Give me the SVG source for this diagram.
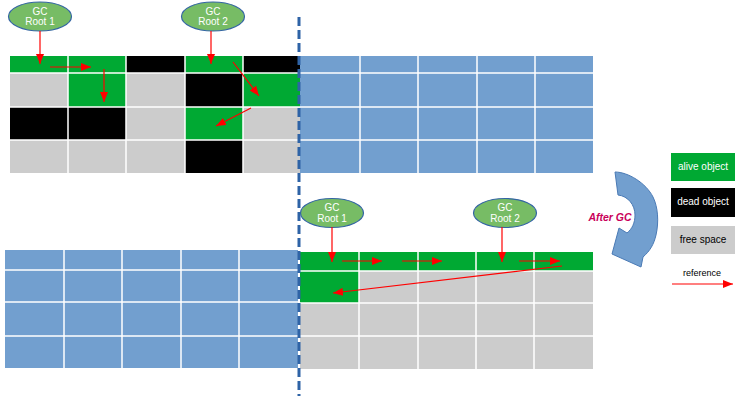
<svg xmlns="http://www.w3.org/2000/svg" width="744" height="399" viewBox="0 0 744 399">
<style>
.g{fill:#00a933}.k{fill:#000}.f{fill:#cccccc}.b{fill:#729fcf}
.gl{stroke:#fff;stroke-width:1.5;fill:none}
.root{fill:#77bc65;stroke:#3465a4;stroke-width:1.2}
.rt{font-family:"Liberation Sans",Arial,sans-serif;font-size:10px;fill:#fff;text-anchor:middle}
.lt{font-family:"Liberation Sans",Arial,sans-serif;font-size:10px;text-anchor:middle}
.ref{stroke:#ff0000;stroke-width:1.2;fill:none;marker-end:url(#ah)}
</style>
<defs>
<marker id="ah" viewBox="0 0 10 8" refX="10" refY="4" markerWidth="10" markerHeight="8" markerUnits="userSpaceOnUse" orient="auto">
<path d="M0,0 L10,4 L0,8 Z" fill="#ff0000"/>
</marker>
</defs>
<rect width="744" height="399" fill="#fff"/>

<g id="top-heap">
<rect class="g" x="10" y="56" width="58" height="17"/>
<rect class="g" x="68" y="56" width="58" height="17"/>
<rect class="k" x="126" y="56" width="59" height="17"/>
<rect class="g" x="185" y="56" width="58" height="17"/>
<rect class="k" x="243" y="56" width="57" height="17"/>
<rect class="f" x="10" y="73" width="58" height="34"/>
<rect class="g" x="68" y="73" width="58" height="34"/>
<rect class="f" x="126" y="73" width="59" height="34"/>
<rect class="k" x="185" y="73" width="58" height="34"/>
<rect class="g" x="243" y="73" width="57" height="34"/>
<rect class="k" x="10" y="107" width="58" height="33"/>
<rect class="k" x="68" y="107" width="58" height="33"/>
<rect class="f" x="126" y="107" width="59" height="33"/>
<rect class="g" x="185" y="107" width="58" height="33"/>
<rect class="f" x="243" y="107" width="57" height="33"/>
<rect class="f" x="10" y="140" width="58" height="33"/>
<rect class="f" x="68" y="140" width="58" height="33"/>
<rect class="f" x="126" y="140" width="59" height="33"/>
<rect class="k" x="185" y="140" width="58" height="33"/>
<rect class="f" x="243" y="140" width="57" height="33"/>
<rect class="b" x="300" y="56" width="293" height="117"/>
<path class="gl" d="M68,56V173M126,56V173M185,56V173M243,56V173M360,56V173M418,56V173M477,56V173M535,56V173M10,73H593M10,107H593M10,140H593"/>
</g>

<g id="bottom-heap">
<rect class="b" x="5" y="250" width="293" height="118"/>
<path class="gl" d="M64,250V368M122,250V368M181,250V368M239,250V368M5,270H298M5,302H298M5,336H298"/>
<rect class="g" x="300" y="252" width="293" height="19"/>
<rect class="g" x="300" y="271" width="59" height="32"/>
<rect class="f" x="359" y="271" width="234" height="32"/>
<rect class="f" x="300" y="303" width="293" height="66"/>
<path class="gl" d="M359,252V369M418,252V369M476,252V369M534,252V369M300,271H593M300,303H593M300,336H593"/>
</g>

<g id="divider">
<line x1="299" y1="17" x2="299" y2="396" stroke="#2e63a6" stroke-width="3" stroke-dasharray="9,4"/>
</g>

<g id="gc-root-1-top">
<ellipse class="root" cx="40" cy="16.5" rx="31.5" ry="14.5"/>
<text class="rt" x="40" y="14.5">GC</text>
<text class="rt" x="40" y="25">Root 1</text>
</g>
<g id="gc-root-2-top">
<ellipse class="root" cx="213" cy="16.5" rx="31.5" ry="14.5"/>
<text class="rt" x="213" y="14.5">GC</text>
<text class="rt" x="213" y="25">Root 2</text>
</g>
<g id="gc-root-1-bottom">
<ellipse class="root" cx="332" cy="213" rx="31.5" ry="14.5"/>
<text class="rt" x="332" y="211">GC</text>
<text class="rt" x="332" y="221.5">Root 1</text>
</g>
<g id="gc-root-2-bottom">
<ellipse class="root" cx="505" cy="213" rx="31.5" ry="14.5"/>
<text class="rt" x="505" y="211">GC</text>
<text class="rt" x="505" y="221.5">Root 2</text>
</g>

<g id="connectors">
<line class="ref" x1="40" y1="31" x2="40" y2="64"/>
<line class="ref" x1="211" y1="31" x2="211" y2="64"/>
<line class="ref" x1="50" y1="67" x2="91" y2="67"/>
<line class="ref" x1="104" y1="69" x2="104" y2="102"/>
<line class="ref" x1="233" y1="62" x2="259" y2="96"/>
<line class="ref" x1="251" y1="108" x2="216" y2="126"/>
<line class="ref" x1="332" y1="227" x2="332" y2="262"/>
<line class="ref" x1="502" y1="227" x2="502" y2="262"/>
<line class="ref" x1="342" y1="261" x2="382" y2="261"/>
<line class="ref" x1="402" y1="261" x2="442" y2="261"/>
<line class="ref" x1="519" y1="261" x2="560" y2="261"/>
<line class="ref" x1="562" y1="266" x2="333" y2="293"/>
</g>

<g id="after-gc">
<path d="M615,172 C628,172 646,183 653,197 C658,207 659,222 656,235 C654,244 650,251 643,257 L641,267 L612,254 L619,228 L627,233 C632,229 635,223 635,215 C635,205 628,196 618,195 Z" fill="#729fcf" stroke="#4a7ab5" stroke-width="1"/>
<text x="610" y="221" font-family="Liberation Sans,Arial,sans-serif" font-size="10.5" font-weight="bold" font-style="italic" fill="#c9005a" text-anchor="middle">After GC</text>
</g>

<g id="legend-alive">
<rect class="g" x="671" y="153" width="64" height="28"/>
<text class="lt" x="703" y="170" fill="#fff">alive object</text>
</g>
<g id="legend-dead">
<rect class="k" x="671" y="188" width="64" height="29"/>
<text class="lt" x="703" y="205" fill="#fff">dead object</text>
</g>
<g id="legend-free">
<rect class="f" x="671" y="226" width="64" height="28"/>
<text class="lt" x="703" y="243" fill="#000">free space</text>
</g>
<g id="legend-reference">
<text class="lt" x="702" y="276" fill="#000" style="font-size:9px">reference</text>
<line class="ref" x1="672" y1="284" x2="733" y2="284"/>
</g>
</svg>
